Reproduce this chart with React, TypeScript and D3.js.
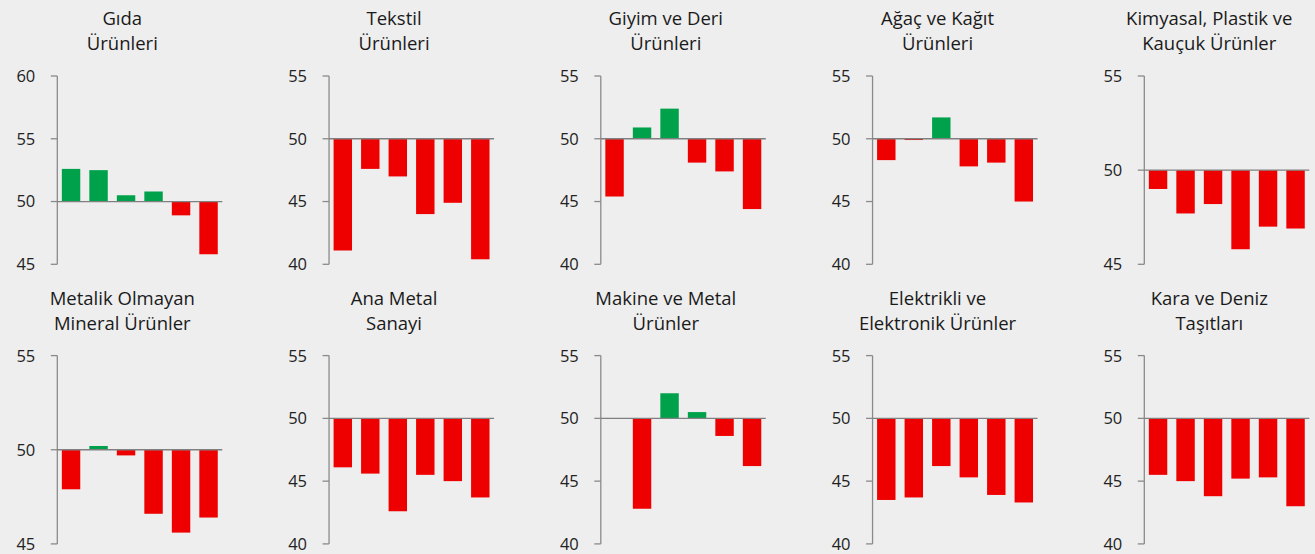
import React, { useEffect } from 'react';
import * as d3 from 'd3';

// six periods per panel (no labels shown on the x axis)
const periods = ['1', '2', '3', '4', '5', '6'];

const sectorTitles: string[][] = [
  ['Gıda', 'Ürünleri'],
  ['Tekstil', 'Ürünleri'],
  ['Giyim ve Deri', 'Ürünleri'],
  ['Ağaç ve Kağıt', 'Ürünleri'],
  ['Kimyasal, Plastik ve', 'Kauçuk Ürünler'],
  ['Metalik Olmayan', 'Mineral Ürünler'],
  ['Ana Metal', 'Sanayi'],
  ['Makine ve Metal', 'Ürünler'],
  ['Elektrikli ve', 'Elektronik Ürünler'],
  ['Kara ve Deniz', 'Taşıtları'],
];

const gida = [52.6, 52.5, 50.5, 50.8, 48.9, 45.8];
const tekstil = [41.1, 47.6, 47.0, 44.0, 44.9, 40.4];
const giyim = [45.4, 50.9, 52.4, 48.1, 47.4, 44.4];
const agac = [48.3, 49.9, 51.7, 47.8, 48.1, 45.0];
const kimyasal = [49.0, 47.7, 48.2, 45.8, 47.0, 46.9];
const metalikOlmayan = [47.9, 50.2, 49.7, 46.6, 45.6, 46.4];
const anaMetal = [46.1, 45.6, 42.6, 45.5, 45.0, 43.7];
const makine = [50.0, 42.8, 52.0, 50.5, 48.6, 46.2];
const elektrik = [43.5, 43.7, 46.2, 45.3, 43.9, 43.3];
const kara = [45.5, 45.0, 43.8, 45.2, 45.3, 43.0];

const sectorValues = [gida, tekstil, giyim, agac, kimyasal, metalikOlmayan, anaMetal, makine, elektrik, kara];

const ticks60 = [45, 50, 55, 60];
const ticks55 = [40, 45, 50, 55];
const ticks5 = [45, 50, 55];
const sectorTicks = [ticks60, ticks55, ticks55, ticks55, ticks5, ticks5, ticks55, ticks55, ticks55, ticks55];

const THRESHOLD = 50;

const FONT = '"Open Sans", "Noto Sans", sans-serif';
const BG = '#eeeeee';
const RED = '#ee0000';
const GREEN = '#00a14b';

function Panel({ index }: { index: number }) {
  const col = index % 5;
  const row = Math.floor(index / 5);
  const axisX = 57.3 + col * 271.75;
  const top = 76 + row * 279.6;
  const plotH = 188.3;
  const plotW = 165;
  const ticks = sectorTicks[index];
  const values = sectorValues[index];

  const y = d3.scaleLinear()
    .domain(d3.extent(ticks) as [number, number])
    .range([top + plotH, top]);

  const x = d3.scaleBand<string>()
    .domain(periods)
    .range([axisX, axisX + plotW])
    .paddingInner(0.33)
    .paddingOuter(0.165);

  const titleX = axisX + 65;
  const [t1, t2] = sectorTitles[index];

  return (
    <g>
      <text x={titleX} y={top - 51} textAnchor="middle" fontFamily={FONT} fontSize={18.5} fill="#1a1a1a">{t1}</text>
      <text x={titleX} y={top - 26} textAnchor="middle" fontFamily={FONT} fontSize={18.5} fill="#1a1a1a">{t2}</text>

      {values.map((v, i) => {
        const y0 = y(THRESHOLD);
        const y1 = y(v);
        return (
          <rect
            key={i}
            x={x(periods[i])}
            width={x.bandwidth()}
            y={Math.min(y0, y1)}
            height={Math.abs(y1 - y0)}
            fill={v > THRESHOLD ? GREEN : RED}
          />
        );
      })}

      {/* y axis */}
      <line x1={axisX} x2={axisX} y1={y(ticks[ticks.length - 1])} y2={y(ticks[0])} stroke="#8a8a8a" strokeWidth={1.3} />
      {ticks.map(t => (
        <g key={t}>
          <line x1={axisX - 6.5} x2={axisX} y1={y(t)} y2={y(t)} stroke="#8a8a8a" strokeWidth={1.3} />
          <text x={axisX - 22} y={y(t)} dy="0.36em" textAnchor="end" fontFamily={FONT} fontSize={16.5} fill="#222">{t}</text>
        </g>
      ))}

      {/* 50 line */}
      <line x1={axisX} x2={axisX + plotW} y1={y(THRESHOLD)} y2={y(THRESHOLD)} stroke="#808080" strokeWidth={1.3} />
    </g>
  );
}

export default function App() {
  useEffect(() => {
    document.body.style.margin = '0';
    document.body.style.background = BG;
  }, []);

  return (
    <svg width={1315} height={554} style={{ display: 'block', background: BG }}>
      <rect width={1315} height={554} fill={BG} />
      {sectorTitles.map((_, i) => (
        <Panel key={i} index={i} />
      ))}
    </svg>
  );
}
